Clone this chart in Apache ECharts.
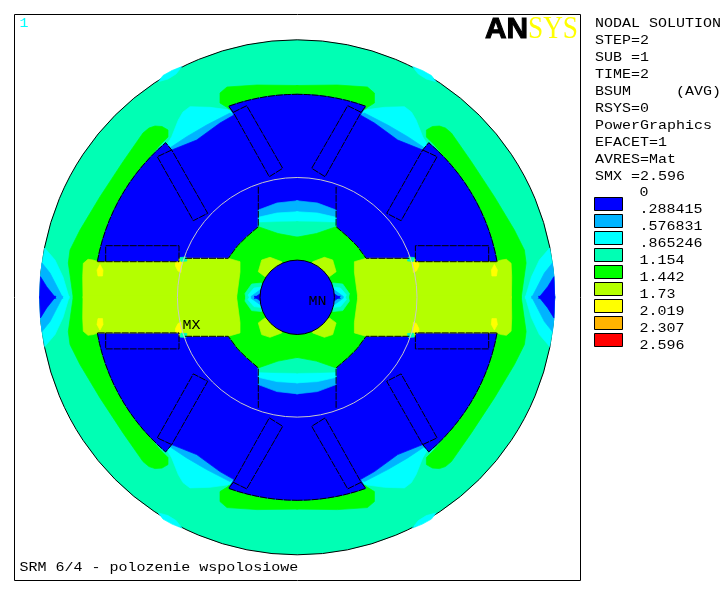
<!DOCTYPE html>
<html><head><meta charset="utf-8">
<style>html,body{margin:0;padding:0;background:#fff}#c{width:727px;height:595px}</style>
<script src="https://cdn.jsdelivr.net/npm/echarts@6/dist/echarts.min.js"></script>
</head><body><div id="c"></div>
<script>
// Contour band colours and their legend labels
const bandColors = ['#0000ff','#00b4ff','#00ffff','#00ffb4','#00ff00','#b4ff00','#ffff00','#ffb400','#ff0000'];
const bandLabels = ['0','.288415','.576831','.865246','1.154','1.442','1.73','2.019','2.307','2.596'];
const infoLines = ['NODAL SOLUTION','STEP=2','SUB =1','TIME=2','BSUM     (AVG)','RSYS=0','PowerGraphics','EFACET=1','AVRES=Mat','SMX =2.596'];
const caption = 'SRM 6/4 - polozenie wspolosiowe';

// Geometry, in picture units
const centre = [297.2, 297.3];
const outerR = 257.5, statorR = 203, gapCircleR = 119.8, shaftR = 37.2;

function arc(r, a0, a1, step = 3) {
  const out = [], n = Math.max(1, Math.round(Math.abs(a1 - a0) / step));
  for (let i = 0; i <= n; i++) {
    const a = (a0 + (a1 - a0) * i / n) * Math.PI / 180;
    out.push([centre[0] - r * Math.cos(a), centre[1] - r * Math.sin(a)]);
  }
  return out;
}
const cy = centre[1], cx = centre[0];

// Upper-left quadrant outlines; the other quadrants are its mirror images
const edgeCyan = [[44.7,248],[55,260],[63,277],[69.3,cy],[39.7,cy],[40.5,276.7],[42,263]];
const edgeLight = [[42,263],[50,273],[63,cy],[39.7,cy],[40.5,276.7]];
const edgeBlue = [[40.5,276.7],[46.7,286.7],[56,cy],[39.7,cy]];
const sliver = [[158.3,81.7],[168,79],[176,74],[182,66.5],[172,70.5],[163,75.5]];
const greenArm = [[73.3,cy],[68.3,263],[70,250],[80,230],[100,196.7],[123,161.7],[143,133],[149,128],[155,126],[162,126.5],[168,130],[168,137],[160,145],[145,163],[150,200],[100,cy]];
const greenCap = [[228,108],[220,103],[220,93],[227,87],[257,85],[cx,85.5],[cx,120],[235,120]];
const gapCyan = [[166.7,145],[171.7,136.7],[178.3,120],[183,112],[190,106.7],[210,107.3],[230,110],[234,115],[171.7,151.7]];
const gapLight = [[169.3,148.3],[186.7,136.7],[206.7,125],[230,113],[234,115],[220,123],[196.7,140],[171.7,151.7]];
const statorBlue = [...arc(statorR,10.1,49.6),[171.7,150],[196.7,140],[220,123],[234,115],[229,106.7],...arc(statorR,70.3,90),[cx,cy],[97,cy]];
const lensLight = [[258.3,210],[277,203],[cx,200.7],[cx,242],[258.3,232]];
const lensCyan = [[258.3,217.3],[277,213],[cx,211.7],[cx,242],[258.3,232]];
const lensTeal = [[258.3,222.7],[277,222],[cx,221.7],[cx,242],[258.3,232]];
const rotorGreen = [[cx,237.3],[278,233.5],[258.3,226.7],[246.7,236.7],[237.3,246],[228.3,258.3],[222,cy],[cx,cy]];
const poleLime = [[83,cy],[82.7,276.7],[83.3,263.3],[88,259.3],[93,260],[97.7,261.5],[179,261.7],[179,258.3],[228.3,258.3],[240,261.7],[240,272],[236.5,cy]];
const blobLime = [[265,276.7],[258.3,271.7],[261.7,260],[270,257.3],[281.7,261.7],[285,275]];
const shaftTeal = [[245,293.5],[251.7,284],[261.7,283],[268,cy],[246,cy]];
const shaftCyan = [[248,295],[254,288],[262,287],[268,cy],[250,cy]];
const shaftLight = [[251,296.5],[260,290],[268,291],[268,cy],[252,cy]];
const shaftBlue = [[254,cy],[261,293],[268,293],[268,cy]];
const poleYellowOuter = [[100,264.5],[103,270],[102.5,276],[98,276],[97,270]];
const poleYellowInner = [[175.5,262],[182,262],[181,272.5],[178,271],[175.5,266]];
const cornerTeal = [[180,257.5],[186,257],[187,261],[181,261.5]];

// Black element edges (upper-left quadrant)
const edgeStatorA = arc(statorR,10.1,49.6).concat([[171.7,150]]);
const edgeStatorB = [[233.3,112.3],[229,106.7]].concat(arc(statorR,70.3,90));
const slotA = [[105.7,261.7],[105.7,245.7],[179,245.7],[179,261.7]];
const slotB = [[171.7,150],[157.3,156.7],[193.3,220.7],[207.7,213.3],[171.7,150]];
const slotC = [[233.3,112.3],[246.7,105.7],[282.7,168.3],[269.3,176.7],[233.3,112.3]];
const statorPoleEdge = [[97.7,261.7],[179,261.7]];
const rotorEdge = [[185,258.3],[228.3,258.3],[237.3,246],[246.7,236.7],[258.3,226.7],[258.3,186]];

// Draw order for the filled regions: [outline, band index]
const fills = [
  [edgeCyan,2],[edgeLight,1],[edgeBlue,0],[sliver,2],
  [greenArm,4],[greenCap,4],[gapCyan,2],[gapLight,1],[statorBlue,0],
  [lensLight,1],[lensCyan,2],[lensTeal,3],[rotorGreen,4],[poleLime,5],[blobLime,5],
  [shaftTeal,3],[shaftCyan,2],[shaftLight,1],[shaftBlue,0],
  [poleYellowOuter,6],[poleYellowInner,6],[cornerTeal,3]
];
const edges = [edgeStatorA,edgeStatorB,slotA,slotB,slotC,statorPoleEdge,rotorEdge];

// Points on a symmetry axis reach one unit past it so mirrored fills overlap without a seam
const overlap = pts => pts.map(p => [p[0] === cx ? cx + 1 : p[0], p[1] === cy ? cy + 1 : p[1]]);
const mirror = (pts, sx, sy) => pts.map(p => [sx ? 2*cx - p[0] : p[0], sy ? 2*cy - p[1] : p[1]]);
const quads = [[0,0],[1,0],[0,1],[1,1]];

const shapes = [];
shapes.push({k:'circle', c:centre, r:outerR, fill:bandColors[3], stroke:'#000'});
fills.forEach(([pts,b]) => quads.forEach(([sx,sy]) => shapes.push({k:'poly', pts:mirror(overlap(pts),sx,sy), fill:bandColors[b]})));
edges.forEach(pts => quads.forEach(([sx,sy]) => shapes.push({k:'line', pts:mirror(pts,sx,sy), stroke:'#000', dash:[7,1]})));
shapes.push({k:'circle', c:centre, r:shaftR, fill:bandColors[0], stroke:'#000'});
shapes.push({k:'circle', c:centre, r:gapCircleR, fill:null, stroke:'#c8c8c8'});
// Frame
shapes.push({k:'line', pts:[[14.5,14.5],[580.5,14.5],[580.5,580.5],[14.5,580.5],[14.5,14.5]], stroke:'#000'});
// Legend
const legendTop = 197.5, legendStep = 17, monoFont = '13.5px "Liberation Mono"', monoScale = 1.11;
bandColors.forEach((col,i) => shapes.push({k:'rect', x:594.5, y:legendTop + i*legendStep, w:28, h:13, fill:col}));
bandLabels.forEach((t,i) => shapes.push({k:'text', x:639.5, y:192 + i*legendStep, t, font:monoFont, sx:monoScale, fill:'#000'}));
infoLines.forEach((t,i) => shapes.push({k:'text', x:595, y:23 + i*17, t, font:monoFont, sx:monoScale, fill:'#000'}));
shapes.push({k:'text', x:19.5, y:567, t:caption, font:monoFont, sx:monoScale, fill:'#000'});
shapes.push({k:'text', x:19.5, y:23, t:'1', font:monoFont, sx:monoScale, fill:'#00ffff'});
shapes.push({k:'text', x:182.5, y:325, t:'MX', font:monoFont, sx:monoScale, fill:'#000'});
shapes.push({k:'text', x:308.5, y:301.5, t:'MN', font:monoFont, sx:monoScale, fill:'#000'});
shapes.push({k:'text', x:485, y:29.5, t:'AN', font:'bold 29px "Liberation Sans"', sx:1.03, fill:'#000', lw:1});
shapes.push({k:'text', x:528, y:29.5, t:'SYS', font:'31px "Liberation Serif"', sx:0.88, fill:'#ffff00'});

function renderItem(params, api) {
  const s = shapes[api.value(0)];
  const unit = api.size([1,1])[0];
  if (s.k === 'poly') {
    return {type:'polygon', shape:{points:s.pts.map(p=>api.coord(p))},
      style:{fill:s.fill, stroke:s.fill, lineWidth:0.7}};
  }
  if (s.k === 'line') {
    return {type:'polyline', shape:{points:s.pts.map(p=>api.coord(p))},
      style:{fill:null, stroke:s.stroke, lineWidth:1, lineDash:s.dash||null}};
  }
  if (s.k === 'circle') {
    const c = api.coord(s.c);
    return {type:'circle', shape:{cx:c[0], cy:c[1], r:s.r*unit},
      style:{fill:s.fill||'transparent', stroke:s.stroke, lineWidth:1}};
  }
  if (s.k === 'rect') {
    const a = api.coord([s.x,s.y]);
    return {type:'rect', shape:{x:a[0], y:a[1], width:s.w*unit, height:s.h*unit},
      style:{fill:s.fill, stroke:'#000', lineWidth:1}};
  }
  const a = api.coord([s.x,s.y]);
  return {type:'text', x:a[0], y:a[1], scaleX:s.sx||1,
    style:{text:s.t, font:s.font, fill:s.fill, align:'left', verticalAlign:'middle',
      stroke:s.lw?s.fill:null, lineWidth:s.lw||0}};
}

const chart = echarts.init(document.getElementById('c'), null, {renderer:'canvas'});
chart.setOption({
  animation:false,
  backgroundColor:'#fff',
  grid:{left:0,right:0,top:0,bottom:0},
  xAxis:{type:'value',min:0,max:727,show:false},
  yAxis:{type:'value',min:0,max:595,inverse:true,show:false},
  series:[{type:'custom',coordinateSystem:'cartesian2d',silent:true,clip:false,
    renderItem, data:shapes.map((s,i)=>[i])}]
});
</script></body></html>
